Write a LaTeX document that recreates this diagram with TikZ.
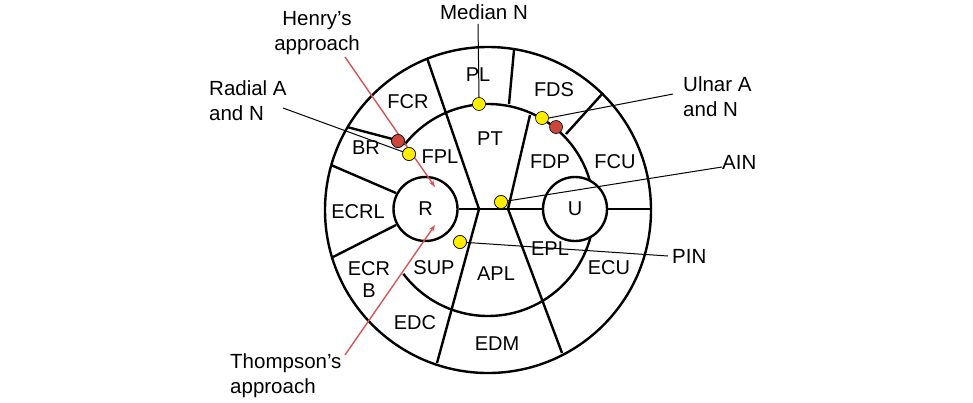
\documentclass[tikz,border=0pt]{standalone}
\usepackage{fontspec}
\setmainfont{Liberation Sans}
\usetikzlibrary{arrows.meta}
\definecolor{dotyel}{RGB}{255,238,0}
\definecolor{dotred}{RGB}{205,70,60}
\definecolor{appred}{RGB}{215,85,85}
\begin{document}
\begin{tikzpicture}[x=1pt,y=-1pt,
  seg/.style={line width=2.4pt,black},
  lead/.style={line width=1pt,black},
  app/.style={line width=1.4pt,appred,-{Stealth[length=7pt,width=5pt]}},
  lab/.style={font=\fontsize{20}{22}\selectfont,inner sep=0pt,align=center},
  ext/.style={font=\fontsize{20.5}{25}\selectfont,inner sep=0pt},
  ydot/.style={circle,draw=black,line width=0.6pt,fill=dotyel,minimum size=13pt,inner sep=0pt},
  rdot/.style={circle,draw=black,line width=0.6pt,fill=dotred,minimum size=13pt,inner sep=0pt},
  bone/.style={circle,draw=black,line width=2.4pt,fill=white,minimum size=64pt,inner sep=0pt,font=\fontsize{20}{22}\selectfont}]
\useasboundingbox[fill=white] (0,0) rectangle (973,402);
\coordinate (C) at (488,210);
% radial lines
\coordinate (J1) at (479,209);
\coordinate (J2) at (508,209);
\draw[seg] (427,58) -- (J1) -- (437,363);
\draw[seg] (530,115) -- (J2) -- (562,353);
\draw[seg] (514,50) -- (509,104);
\draw[seg] (603,93) -- (566,134);
\draw[seg] (347,127) -- (400,141);
\draw[seg] (331,165) -- (396,193);
\draw[seg] (333,257) -- (396,225);
\draw[seg] (C) circle[radius=163];
% inner arcs (angles clockwise on screen since y points down)
\draw[seg] ([shift={(-142:106)}]C) arc[start angle=-142,end angle=0,radius=106];
\draw[seg] ([shift={(0:106)}]C) arc[start angle=0,end angle=143,radius=106];
% bones
\node[bone] (R) at (425.5,209) {R};
\node[bone] (U) at (575,209) {U};
\draw[seg] (R.east) -- (U.west);
\draw[seg] (U.east) -- (651,209);
% dots
\node[ydot] (dPL) at (479,104) {};
\node[ydot] (dFDS) at (542,118) {};
\node[rdot] (dUA) at (556,127) {};
\node[rdot] (dRA) at (398,141) {};
\node[ydot] (dRN) at (409,154) {};
\node[ydot] (dAIN) at (501,202) {};
\node[ydot] (dPIN) at (460,242) {};
% external labels
\node[ext] (tMed) at (484,12) {Median N};
\node[ext,align=center] (tHen) at (317,33) {Henry’s\\approach};
\node[ext,align=left,anchor=west] (tRad) at (209,101) {Radial A\\and N};
\node[ext,align=left,anchor=west] (tUln) at (683,97) {Ulnar A\\and N};
\node[ext,anchor=west] (tAIN) at (722,162) {AIN};
\node[ext,anchor=west] (tPIN) at (672,256) {PIN};
\node[ext,align=left,anchor=west] (tTh) at (230,376) {Thompson’s\\approach};
\coordinate (mA) at (478,24);
\coordinate (rA) at (283,108);
\coordinate (uA) at (673,94);
\coordinate (aA) at (722,167);
\coordinate (pA) at (668,256);
\coordinate (hA) at (345,57);
\coordinate (hB) at (435,187);
\coordinate (tA) at (345,355);
\coordinate (tB) at (435,225);
\draw[lead] (mA) -- (dPL.north);
\draw[lead] (rA) -- (dRN.center);
\draw[lead] (uA) -- (dFDS.east);
\draw[lead] (aA) -- (dAIN.center);
\draw[lead] (pA) -- (dPIN.center);
\draw[app] (hA) -- (hB);
\draw[app] (tA) -- (tB);
\node[rdot] at (dRA) {};
\node[ydot] at (dRN) {};
\node[ydot] at (dAIN) {};
\node[ydot] at (dPIN) {};
% segment labels
\node[lab] (lPL) at (478,75) {PL};
\node[lab] (lFDS) at (554,90) {FDS};
\node[lab] (lFCR) at (408,102) {FCR};
\node[lab] (lPT) at (490,139) {PT};
\node[lab] (lBR) at (366,148) {BR};
\node[lab] (lFPL) at (440,157) {FPL};
\node[lab] (lFDP) at (550,162) {FDP};
\node[lab] (lFCU) at (615,162) {FCU};
\node[lab] (lECRL) at (358,212) {ECRL};
\node[lab] (lEPL) at (550,249) {EPL};
\node[lab] (lECU) at (609,268) {ECU};
\node[lab] (lECRB) at (369,280) {ECR\\B};
\node[lab] (lSUP) at (434,268) {SUP};
\node[lab] (lAPL) at (496,274) {APL};
\node[lab] (lEDC) at (415,323) {EDC};
\node[lab] (lEDM) at (497,344) {EDM};
\end{tikzpicture}
\end{document}
